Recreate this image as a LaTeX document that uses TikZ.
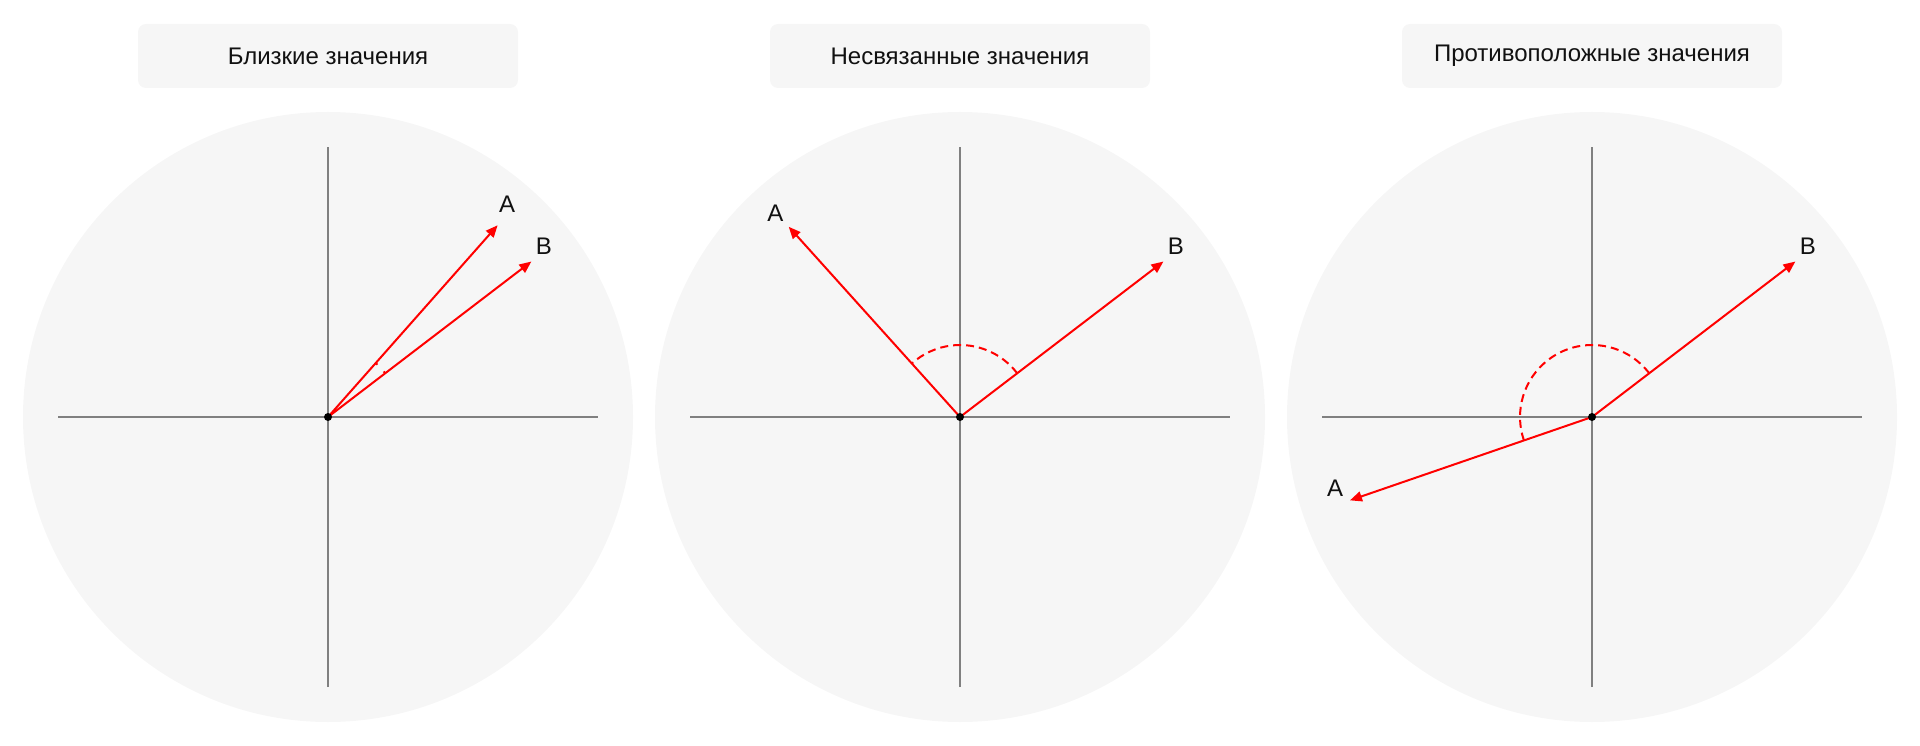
\documentclass[tikz,border=0pt]{standalone}
\usepackage{fontspec}
\setmainfont{Liberation Sans}
\usetikzlibrary{arrows.meta}
\usetikzlibrary{calc}

\definecolor{plategray}{HTML}{F6F6F6}
\definecolor{axisgray}{HTML}{808080}
\definecolor{vecred}{HTML}{FF0000}
\definecolor{inkblack}{HTML}{111111}

\tikzset{
  plate/.style={fill=plategray},
  titlebox/.style={fill=plategray, rounded corners=4pt, minimum width=190pt, minimum height=32pt, inner sep=0pt, text=inkblack, font=\fontsize{12}{14}\selectfont},
  axisline/.style={draw=axisgray, line width=1pt},
  vec/.style={draw=vecred, line width=1pt, -{Triangle[length=6pt,width=5pt]}},
  angarc/.style={draw=vecred, line width=1pt, dash pattern=on 4pt off 2.5pt},
  vlabel/.style={inner sep=0pt, text=inkblack, font=\fontsize{12}{14}\selectfont},
}

\begin{document}
\begin{tikzpicture}[x=.5pt,y=.5pt]
\useasboundingbox (0,0) rectangle (1920,745);

% --- close values
\coordinate (o1) at (328,328);
\fill[plate] (o1) circle (305);
\node[titlebox] (t1) at (328,689) {Близкие значения};
\draw[axisline] ($(o1)+(-270,0)$) -- ($(o1)+(270,0)$); % x axis
\draw[axisline] ($(o1)+(0,-270)$) -- ($(o1)+(0,270)$); % y axis
\draw[angarc, dash pattern=on 1.2pt off 4.6pt on 1.2pt] ($(o1)+(37.4:72)$) arc[start angle=37.4, end angle=48.5, radius=72];
\coordinate (a1) at ($(o1)+(48.5:256)$);
\coordinate (b1) at ($(o1)+(37.4:256)$);
\draw[vec] (o1) -- (a1);
\draw[vec] (o1) -- (b1);
\fill[black] (o1) circle (4);
\node[vlabel] (la1) at ($(o1)+(49.9:278)$) {A};
\node[vlabel] (lb1) at ($(o1)+(38.4:275.5)$) {B};

% --- unrelated values
\coordinate (o2) at (960,328);
\fill[plate] (o2) circle (305);
\node[titlebox] (t2) at (960,689) {Несвязанные значения};
\draw[axisline] ($(o2)+(-270,0)$) -- ($(o2)+(270,0)$); % x axis
\draw[axisline] ($(o2)+(0,-270)$) -- ($(o2)+(0,270)$); % y axis
\draw[angarc] ($(o2)+(37.4:72)$) arc[start angle=37.4, end angle=132, radius=72];
\coordinate (a2) at ($(o2)+(132:256)$);
\coordinate (b2) at ($(o2)+(37.4:256)$);
\draw[vec] (o2) -- (a2);
\draw[vec] (o2) -- (b2);
\fill[black] (o2) circle (4);
\node[vlabel] (la2) at ($(o2)+(132.2:275)$) {A};
\node[vlabel] (lb2) at ($(o2)+(38.4:275.5)$) {B};

% --- opposite values
\coordinate (o3) at (1592,328);
\fill[plate] (o3) circle (305);
\node[titlebox] (t3) at (1592,689) {Противоположные значения};
\draw[axisline] ($(o3)+(-270,0)$) -- ($(o3)+(270,0)$); % x axis
\draw[axisline] ($(o3)+(0,-270)$) -- ($(o3)+(0,270)$); % y axis
\draw[angarc] ($(o3)+(37.4:72)$) arc[start angle=37.4, end angle=199, radius=72];
\coordinate (a3) at ($(o3)+(199:256)$);
\coordinate (b3) at ($(o3)+(37.4:256)$);
\draw[vec] (o3) -- (a3);
\draw[vec] (o3) -- (b3);
\fill[black] (o3) circle (4);
\node[vlabel] (la3) at ($(o3)+(195.4:266.5)$) {A};
\node[vlabel] (lb3) at ($(o3)+(38.4:275.5)$) {B};

\end{tikzpicture}
\end{document}
